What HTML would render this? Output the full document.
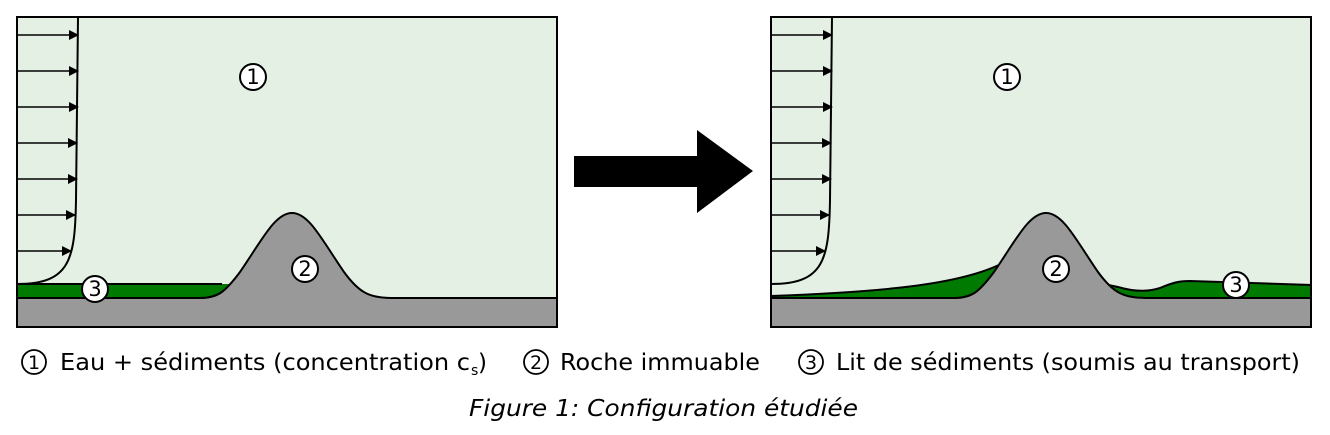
<!DOCTYPE html>
<html><head><meta charset="utf-8"><style>
html,body{margin:0;padding:0;background:#fff;width:1330px;height:435px;overflow:hidden}
svg{position:absolute;left:0;top:0}
</style></head><body>
<svg width="1330" height="435" viewBox="0 0 1330 435" xmlns="http://www.w3.org/2000/svg">
<defs>
<marker id="ah" markerWidth="10" markerHeight="10" refX="9" refY="5" orient="auto" markerUnits="userSpaceOnUse">
<path d="M0,0 L10,5 L0,10 Z" fill="#000"/></marker>
</defs>
<!-- LEFT PANEL -->
<g>
<rect x="17" y="17" width="540" height="310" fill="#e4f0e4"/>
<rect x="17" y="284" width="215" height="14" fill="#007a00"/>
<path d="M17,284 L222,284" stroke="#000" stroke-width="2" fill="none"/>
<path d="M17,298 L200,298 C218,298 225,292 240,272 C262,240 275,213 292,213 C309,213 322,240 344,272 C360,294 370,298 395,298 L557,298 L557,327 L17,327 Z" fill="#999" stroke="#000" stroke-width="2"/>
<rect x="17" y="17" width="540" height="310" fill="none" stroke="#000" stroke-width="2"/>
<path d="M78,17 L76,200 C75,260 70,284 17,284" stroke="#000" stroke-width="2" fill="none"/>
<g stroke="#000" stroke-width="1.5" marker-end="url(#ah)">
<line x1="17" y1="35" x2="78" y2="35"/><line x1="17" y1="71" x2="78" y2="71"/>
<line x1="17" y1="107" x2="78" y2="107"/><line x1="17" y1="143" x2="77" y2="143"/>
<line x1="17" y1="179" x2="77" y2="179"/><line x1="17" y1="215" x2="75" y2="215"/>
<line x1="17" y1="251" x2="71" y2="251"/>
</g>
<g fill="#fff" stroke="#000" stroke-width="2"><circle cx="253" cy="77" r="13"/><circle cx="305" cy="269" r="13"/><circle cx="95" cy="289" r="13"/></g>
<g font-family="DejaVu Sans, sans-serif" font-size="21" text-anchor="middle"><text x="253" y="84">1</text><text x="305" y="276">2</text><text x="95" y="296">3</text></g>
</g>
<!-- ARROW -->
<path d="M574,156 L697,156 L697,130 L753,171 L697,213 L697,187 L574,187 Z" fill="#000"/>
<!-- RIGHT PANEL -->
<g>
<rect x="771" y="17" width="540" height="310" fill="#e4f0e4"/>
<path d="M771,296 C880,292 960,285 1003,263 L1118,287 C1135,292 1148,292 1160,288 C1172,283 1178,281 1190,281 L1311,285 L1311,298 L771,298 Z" fill="#007a00" stroke="#000" stroke-width="2"/>
<path d="M771,298 L954,298 C972,298 979,292 994,272 C1016,240 1029,213 1046,213 C1063,213 1076,240 1098,272 C1114,294 1124,298 1149,298 L1311,298 L1311,327 L771,327 Z" fill="#999" stroke="#000" stroke-width="2"/>
<rect x="771" y="17" width="540" height="310" fill="none" stroke="#000" stroke-width="2"/>
<path d="M832,17 L830,200 C829,260 824,284 771,284" stroke="#000" stroke-width="2" fill="none"/>
<g stroke="#000" stroke-width="1.5" marker-end="url(#ah)">
<line x1="771" y1="35" x2="832" y2="35"/><line x1="771" y1="71" x2="832" y2="71"/>
<line x1="771" y1="107" x2="832" y2="107"/><line x1="771" y1="143" x2="831" y2="143"/>
<line x1="771" y1="179" x2="831" y2="179"/><line x1="771" y1="215" x2="829" y2="215"/>
<line x1="771" y1="251" x2="825" y2="251"/>
</g>
<g fill="#fff" stroke="#000" stroke-width="2"><circle cx="1007" cy="77" r="13"/><circle cx="1056" cy="269" r="13"/><circle cx="1236" cy="285" r="13"/></g>
<g font-family="DejaVu Sans, sans-serif" font-size="21" text-anchor="middle"><text x="1007" y="84">1</text><text x="1056" y="276">2</text><text x="1236" y="292">3</text></g>
</g>
<!-- LEGEND -->
<g fill="none" stroke="#000" stroke-width="1.8"><circle cx="34" cy="362" r="12"/><circle cx="536" cy="362" r="12"/><circle cx="811" cy="362" r="12"/></g>
<g font-family="DejaVu Sans, sans-serif" font-size="19" text-anchor="middle"><text x="34" y="369">1</text><text x="536" y="369">2</text><text x="811" y="369">3</text></g>
<g font-family="DejaVu Sans, sans-serif" font-size="23" fill="#000">
<text x="60" y="370" textLength="410" lengthAdjust="spacingAndGlyphs">Eau + sédiments (concentration c</text>
<text x="471" y="375" font-size="14">s</text>
<text x="478" y="370">)</text>
<text x="560" y="370" textLength="200" lengthAdjust="spacingAndGlyphs">Roche immuable</text>
<text x="836" y="370" textLength="464" lengthAdjust="spacingAndGlyphs">Lit de sédiments (soumis au transport)</text>
<text x="469" y="416" font-style="italic" textLength="389" lengthAdjust="spacingAndGlyphs">Figure 1: Configuration étudiée</text>
</g>
</svg>
</body></html>
